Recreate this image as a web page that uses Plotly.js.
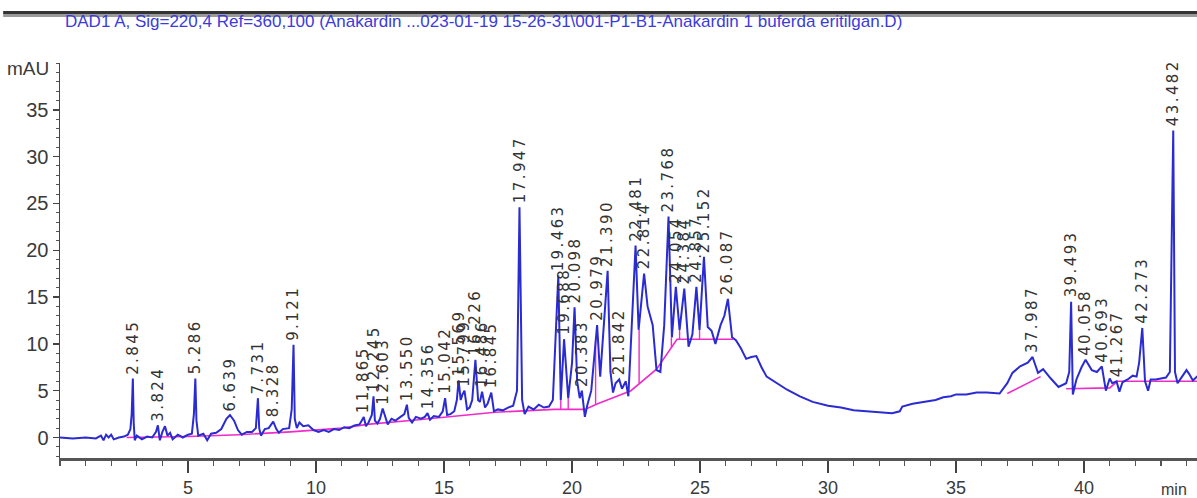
<!DOCTYPE html>
<html>
<head>
<meta charset="utf-8">
<script src="https://cdn.plot.ly/plotly-3.0.1.min.js"></script>
<style>
  html, body { margin: 0; padding: 0; background: #ffffff; overflow: hidden; }
  #chart { width: 1197px; height: 498px; }
</style>
</head>
<body>
<div id="chart"></div>
<script>
// ---- chart data ----
var titleText = "DAD1 A, Sig=220,4 Ref=360,100 (Anakardin ...023-01-19 15-26-31\\001-P1-B1-Anakardin 1 buferda eritilgan.D)";

// signal: retention time (min) and absorbance (mAU)
var signalTime = [
  0.00, 0.5, 1.0, 1.4, 1.6, 1.7, 1.8, 1.9, 2.0, 2.1, 2.3, 2.5, 2.65, 2.75, 2.80, 2.845, 2.88, 2.92, 3.0, 3.2,
  3.4, 3.6, 3.75, 3.824, 3.9, 4.0, 4.1, 4.2, 4.3, 4.4, 4.6, 4.8, 5.0, 5.15, 5.23, 5.286, 5.33, 5.4, 5.6, 5.75,
  5.9, 6.1, 6.3, 6.5, 6.639, 6.8, 6.95, 7.1, 7.3, 7.5, 7.65, 7.731, 7.78, 7.85, 8.0, 8.15, 8.328, 8.45, 8.55, 8.7,
  8.95, 9.05, 9.121, 9.17, 9.25, 9.35, 9.5, 9.7, 9.9, 10.1, 10.3, 10.5, 10.7, 10.9, 11.1, 11.3, 11.5, 11.7, 11.865, 11.95,
  12.05, 12.18, 12.245, 12.3, 12.4, 12.5, 12.603, 12.7, 12.8, 12.95, 13.1, 13.3, 13.45, 13.55, 13.62, 13.75, 13.9, 14.1, 14.25, 14.356,
  14.45, 14.6, 14.8, 14.95, 15.042, 15.12, 15.25, 15.4, 15.5, 15.569, 15.65, 15.72, 15.799, 15.9, 16.0, 16.1, 16.226, 16.33, 16.4, 16.486,
  16.6, 16.7, 16.845, 16.95, 17.1, 17.3, 17.5, 17.7, 17.85, 17.947, 18.05, 18.15, 18.3, 18.5, 18.7, 18.9, 19.1, 19.25, 19.35, 19.463,
  19.56, 19.688, 19.85, 20.0, 20.098, 20.2, 20.3, 20.383, 20.5, 20.6, 20.75, 20.88, 20.979, 21.1, 21.25, 21.39, 21.5, 21.6, 21.7, 21.842,
  21.95, 22.1, 22.2, 22.32, 22.481, 22.6, 22.814, 22.95, 23.15, 23.3, 23.45, 23.6, 23.768, 23.9, 24.054, 24.2, 24.384, 24.55, 24.7, 24.857,
  24.98, 25.152, 25.3, 25.45, 25.6, 25.8, 25.95, 26.087, 26.25, 26.4, 26.6, 26.8, 27.0, 27.2, 27.4, 27.6, 28.0, 28.4, 28.9, 29.4,
  30.0, 30.5, 31.0, 31.5, 32.0, 32.5, 32.8, 32.9, 33.3, 33.8, 34.2, 34.5, 34.8, 35.0, 35.4, 35.8, 36.2, 36.7, 37.0, 37.2,
  37.5, 37.8, 37.987, 38.2, 38.4, 38.7, 39.0, 39.3, 39.42, 39.493, 39.56, 39.7, 39.9, 40.058, 40.3, 40.5, 40.693, 40.85, 41.0, 41.1,
  41.267, 41.38, 41.5, 41.7, 41.9, 42.05, 42.15, 42.273, 42.38, 42.5, 42.6, 42.8, 43.0, 43.2, 43.35, 43.42, 43.482, 43.55, 43.65, 43.8,
  44.0, 44.1, 44.25, 44.45
];
var signalValue = [
  0.0, -0.1, 0.0, -0.1, 0.2, -0.3, 0.3, 0.0, 0.3, -0.2, 0.0, 0.1, 0.3, 0.9, 2.5, 6.3, 1.5, -0.3, 0.2, -0.2,
  0.1, 0.0, 0.6, 1.3, -0.3, 0.6, 1.2, 0.2, 0.5, -0.2, 0.3, 0.0, 0.3, 0.4, 2.5, 6.3, 1.8, 0.2, 0.4, -0.3,
  0.4, 0.5, 0.9, 2.0, 2.4, 1.8, 0.8, 0.3, 0.6, 0.6, 1.0, 4.2, 1.0, 0.2, 0.9, 1.0, 1.7, 0.9, 0.5, 0.9,
  1.0, 3.0, 9.9, 2.0, 1.0, 1.6, 1.2, 1.3, 0.8, 0.6, 0.8, 0.6, 0.9, 0.8, 1.1, 1.0, 1.3, 1.4, 2.2, 1.2,
  1.6, 2.4, 4.4, 1.8, 1.5, 2.0, 3.1, 2.2, 1.4, 2.0, 1.8, 2.2, 2.5, 3.5, 2.1, 1.6, 2.2, 2.0, 2.2, 2.6,
  1.9, 2.3, 2.2, 2.8, 4.2, 2.4, 2.5, 2.8, 4.0, 6.1, 4.0, 4.6, 5.0, 3.0, 3.2, 4.0, 8.3, 4.0, 3.8, 4.9,
  3.2, 3.6, 4.8, 2.8, 3.0, 2.9, 3.2, 3.4, 5.0, 24.6, 4.0, 2.5, 3.3, 3.0, 3.5, 3.2, 3.3, 4.0, 10.0, 17.3,
  4.0, 10.5, 4.2, 8.0, 13.9, 6.0, 4.2, 5.0, 2.2, 3.5, 5.0, 9.3, 12.0, 6.5, 12.0, 17.8, 7.0, 4.8, 5.8, 6.2,
  5.2, 6.0, 4.4, 12.0, 20.5, 11.5, 17.5, 14.0, 12.0, 7.2, 7.0, 12.0, 23.6, 10.7, 16.1, 11.5, 15.9, 9.7, 11.0, 16.1,
  11.5, 19.3, 11.8, 11.4, 10.0, 12.0, 13.0, 14.8, 10.7, 10.4, 9.5, 8.4, 8.6, 8.7, 7.5, 6.5, 5.8, 5.1, 4.4, 3.8,
  3.4, 3.2, 2.9, 2.8, 2.7, 2.6, 2.8, 3.3, 3.6, 3.8, 4.0, 4.3, 4.4, 4.6, 4.6, 4.8, 4.8, 4.7, 5.8, 6.9,
  7.6, 8.0, 8.6, 6.9, 7.3, 6.3, 5.4, 5.8, 7.0, 14.5, 4.6, 6.2, 7.5, 8.3, 7.2, 7.0, 7.6, 5.0, 6.3, 5.8,
  6.0, 4.9, 5.9, 6.2, 6.6, 6.5, 8.0, 11.7, 6.0, 5.0, 6.2, 6.2, 6.3, 6.4, 7.0, 20.0, 32.8, 7.0, 5.8, 6.4,
  7.2, 6.8, 6.1, 6.6
];

// integration baseline (null = gap)
var baselineTime  = [2.6, 5.0, 7.0, 9.0, 11.0, 12.0, 14.0, 15.5, 17.0, 18.5, 19.3, 20.5, 21.0, 22.3, 23.3, 24.1, 26.3, null, 37.0, 38.3, null, 39.3, 41.0, 41.3, 44.45];
var baselineValue = [0.0, 0.1, 0.3, 0.6, 1.0, 1.4, 1.9, 2.3, 2.7, 2.9, 3.0, 3.0, 3.6, 5.0, 7.3, 10.5, 10.5, null, 4.7, 6.5, null, 5.2, 5.3, 6.0, 6.0];

// peak separation drop lines
var dropTime = [19.56, 19.85, 20.92, 22.62, 23.88, 24.2, 24.98];
var dropLow  = [3.0, 3.0, 3.5, 5.8, 9.6, 10.5, 10.5];
var dropHigh = [4.0, 4.2, 10.4, 11.5, 10.7, 11.5, 11.5];

// labelled peaks: retention time and apex height
var peakTime = [2.845, 3.824, 5.286, 6.639, 7.731, 8.328, 9.121, 11.865, 12.245, 12.603, 13.550, 14.356, 15.042, 15.569, 15.799,
  16.226, 16.486, 16.845, 17.947, 19.463, 19.688, 20.098, 20.383, 20.979, 21.390, 21.842, 22.481, 22.814, 23.768, 24.054,
  24.384, 24.857, 25.152, 26.087, 37.987, 39.493, 40.058, 40.693, 41.267, 42.273, 43.482];
var peakHeight = [6.3, 1.3, 6.3, 2.4, 4.2, 1.7, 9.9, 2.2, 4.4, 3.1, 3.5, 2.6, 4.2, 6.1, 5.0,
  8.3, 4.9, 4.8, 24.6, 17.3, 10.5, 13.9, 5.0, 12.0, 17.8, 6.2, 20.5, 17.5, 23.6, 16.1,
  15.9, 16.1, 19.3, 14.8, 8.6, 14.5, 8.3, 7.6, 6.0, 11.7, 32.8];

// axes
var xTickValues = [5, 10, 15, 20, 25, 30, 35, 40];
var yTickValues = [0, 5, 10, 15, 20, 25, 30, 35];

// ---- drawing ----
var narrow = "Liberation Sans Narrow, Arial Narrow, Liberation Sans, Arial, sans-serif";

var dropX = [], dropY = [];
for (var i = 0; i < dropTime.length; i++) {
  dropX.push(dropTime[i], dropTime[i], null);
  dropY.push(dropLow[i], dropHigh[i], null);
}

var traces = [
  { x: baselineTime, y: baselineValue, type: 'scatter', mode: 'lines', connectgaps: false,
    line: { color: '#f02cc8', width: 1.6 }, hoverinfo: 'skip', showlegend: false },
  { x: dropX, y: dropY, type: 'scatter', mode: 'lines', connectgaps: false,
    line: { color: '#f02cc8', width: 1.4 }, hoverinfo: 'skip', showlegend: false },
  { x: signalTime, y: signalValue, type: 'scatter', mode: 'lines',
    line: { color: '#2b2bd2', width: 2 }, showlegend: false, name: 'DAD1 A' }
];

var annotations = peakTime.map(function (t, i) {
  return {
    x: t, y: peakHeight[i], xref: 'x', yref: 'y',
    text: '<span style="letter-spacing:2.4px">' + t.toFixed(3) + '</span>',
    textangle: -90, showarrow: false, xanchor: 'center', yanchor: 'bottom', yshift: 2,
    font: { family: 'DejaVu Sans, Verdana, sans-serif', size: 15, color: '#333333' }
  };
});
annotations.push({
  text: 'mAU', xref: 'paper', yref: 'paper', x: -0.008, y: 0.985, xanchor: 'right', yanchor: 'middle',
  showarrow: false, font: { family: narrow, size: 19, color: '#3a3a3a' }
});
annotations.push({
  text: 'min', xref: 'paper', yref: 'paper', x: 0.993, y: -0.08, xanchor: 'right', yanchor: 'middle',
  showarrow: false, font: { family: narrow, size: 16, color: '#3a3a3a' }
});

var layout = {
  width: 1197, height: 498,
  margin: { l: 60, r: 0, t: 63, b: 40 },
  paper_bgcolor: '#ffffff', plot_bgcolor: '#ffffff',
  title: {
    text: titleText, xref: 'container', yref: 'container',
    x: 65 / 1197, xanchor: 'left', y: 1 - 21 / 498, yanchor: 'middle',
    font: { family: narrow, size: 17, color: '#3b3bdc' }
  },
  xaxis: {
    range: [0, 44.41], showgrid: false, zeroline: false,
    showline: true, linecolor: '#555555', linewidth: 2.5,
    ticks: 'outside', ticklen: 12, tickwidth: 1.6, tickcolor: '#444444',
    tickmode: 'array', tickvals: xTickValues, ticktext: xTickValues.map(String),
    minor: { dtick: 1, tick0: 0, ticks: 'outside', ticklen: 5, tickwidth: 1.2, tickcolor: '#555555', showgrid: false },
    ticklabelstandoff: 0,
    tickfont: { family: narrow, size: 18, color: '#3a3a3a' }
  },
  yaxis: {
    range: [-2.19, 40.0], showgrid: false, zeroline: false,
    showline: true, linecolor: '#444444', linewidth: 1.5,
    ticks: 'outside', ticklen: 6, tickwidth: 1.4, tickcolor: '#444444',
    tickmode: 'array', tickvals: yTickValues, ticktext: yTickValues.map(String),
    minor: { dtick: 1, tick0: 0, ticks: 'outside', ticklen: 3, tickwidth: 1, tickcolor: '#555555', showgrid: false },
    tickfont: { family: narrow, size: 20, color: '#3a3a3a' }
  },
  shapes: [
    { type: 'rect', layer: 'above', xref: 'paper', yref: 'paper',
      x0: -0.05, x1: 1.01, y0: 1.1165, y1: 1.1240,
      fillcolor: '#9a9a9a', line: { width: 0 } },
    { type: 'rect', layer: 'above', xref: 'paper', yref: 'paper',
      x0: -0.05, x1: 1.01, y0: 1.1240, y1: 1.1317,
      fillcolor: '#333333', line: { width: 0 } }
  ],
  annotations: annotations
};

Plotly.newPlot('chart', traces, layout, { staticPlot: true, displayModeBar: false });
</script>
</body>
</html>
